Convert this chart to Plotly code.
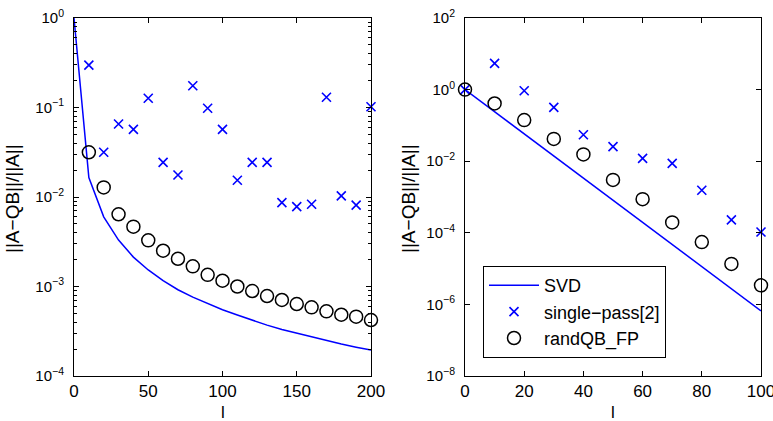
import plotly.graph_objects as go

# ---- data: left panel ----
l_left = [0, 10, 20, 30, 40, 50, 60, 70, 80, 90, 100, 110, 120, 130, 140, 150, 160, 170, 180, 190, 200]
svd_left = [1.0, 0.0165, 0.0060, 0.0033, 0.00213, 0.00153, 0.00116, 0.00092, 0.00076, 0.00064, 0.00055,
            0.00048, 0.00042, 0.00037, 0.00033, 0.00030, 0.000272, 0.000248, 0.000228, 0.00021, 0.000195]
l_left_pts = [10, 20, 30, 40, 50, 60, 70, 80, 90, 100, 110, 120, 130, 140, 150, 160, 170, 180, 190, 200]
sp_left = [0.298, 0.0316, 0.0654, 0.057, 0.127, 0.0244, 0.0176, 0.175, 0.098, 0.057, 0.0154,
           0.0244, 0.0244, 0.00864, 0.0078, 0.0083, 0.130, 0.0103, 0.0081, 0.102]
qb_left = [0.0316, 0.0128, 0.00641, 0.00466, 0.00328, 0.00251, 0.00204, 0.00168, 0.00135, 0.00116,
           0.00100, 0.00089, 0.000783, 0.000707, 0.000637, 0.000585, 0.000528, 0.000484, 0.00046, 0.000422]

# ---- data: right panel ----
l_right = [0, 10, 20, 30, 40, 50, 60, 70, 80, 90, 100]
svd_right = [1.0, 0.24, 0.058, 0.0139, 0.0033, 0.0008, 0.00019, 4.6e-5, 1.1e-5, 2.7e-6, 6.6e-7]
sp_right = [1.0, 5.4, 0.93, 0.32, 0.055, 0.0255, 0.012, 0.0087, 0.00154, 0.00023, 0.000105]
qb_right = [1.0, 0.41, 0.141, 0.042, 0.0155, 0.0030, 0.00087, 0.000195, 5.5e-5, 1.35e-5, 3.4e-6]

# ---- tick labels ----
left_yticks = [1e-4, 1e-3, 1e-2, 1e-1, 1e0]
left_yticktext = ["10<sup>−4</sup>", "10<sup>−3</sup>", "10<sup>−2</sup>", "10<sup>−1</sup>", "10<sup>0</sup>"]
right_yticks = [1e-8, 1e-6, 1e-4, 1e-2, 1e0, 1e2]
right_yticktext = ["10<sup>−8</sup>", "10<sup>−6</sup>", "10<sup>−4</sup>", "10<sup>−2</sup>", "10<sup>0</sup>", "10<sup>2</sup>"]
left_xticks = [0, 50, 100, 150, 200]
right_xticks = [0, 20, 40, 60, 80, 100]

series_names = ["SVD", "single−pass[2]", "randQB_FP"]
ytitle = "||A−QB||/||A||"
xtitle = "l"

BLUE = "#0000ff"
FONT = "Liberation Sans, Arial, sans-serif"

fig = go.Figure()

def add_panel(x_line, y_line, x_pts, y_sp, y_qb, xa, ya, show):
    fig.add_trace(go.Scatter(x=x_line, y=y_line, mode="lines", name=series_names[0],
                             line=dict(color=BLUE, width=1.5), xaxis=xa, yaxis=ya, showlegend=show))
    fig.add_trace(go.Scatter(x=x_pts, y=y_sp, mode="markers", name=series_names[1],
                             marker=dict(symbol="x-thin", size=9, color=BLUE, line=dict(color=BLUE, width=1.6)),
                             xaxis=xa, yaxis=ya, showlegend=show, cliponaxis=False))
    fig.add_trace(go.Scatter(x=x_pts, y=y_qb, mode="markers", name=series_names[2],
                             marker=dict(symbol="circle-open", size=13, color="black", line=dict(color="black", width=1.5)),
                             xaxis=xa, yaxis=ya, showlegend=show, cliponaxis=False))

add_panel(l_left, svd_left, l_left_pts, sp_left, qb_left, "x", "y", False)
add_panel(l_right, svd_right, l_right, sp_right, qb_right, "x2", "y2", True)

W, H = 773, 421
axis_common = dict(showgrid=False, zeroline=False, showline=True, linecolor="black", linewidth=1,
                   mirror="ticks", ticks="inside", ticklen=5, tickcolor="black", tickwidth=1,
                   automargin=False, ticklabeloverflow="allow")
xfont = dict(family=FONT, size=17, color="black")
yfont = dict(family=FONT, size=15, color="black")

minor_left = [m * 10.0 ** e for e in range(-4, 0) for m in range(2, 10)]

fig.update_layout(
    width=W, height=H,
    margin=dict(l=0, r=0, t=0, b=0),
    paper_bgcolor="white", plot_bgcolor="white",
    font=dict(family=FONT, size=17, color="black"),
    xaxis=dict(domain=[74 / W, 371 / W], range=[0, 200], tickvals=left_xticks, anchor="y",
               tickfont=xfont, ticklabelstandoff=0, **axis_common),
    yaxis=dict(domain=[(H - 376) / H, (H - 18) / H], type="log", range=[-4, 0],
               tickvals=left_yticks, ticktext=left_yticktext, anchor="x", tickfont=yfont,
               ticklabelstandoff=6,
               minor=dict(tickvals=minor_left, ticks="inside", ticklen=3, tickcolor="black"),
               **axis_common),
    xaxis2=dict(domain=[465 / W, 761 / W], range=[0, 100], tickvals=right_xticks, anchor="y2",
                tickfont=xfont, ticklabelstandoff=0, **axis_common),
    yaxis2=dict(domain=[(H - 376) / H, (H - 18) / H], type="log", range=[-8, 2],
                tickvals=right_yticks, ticktext=right_yticktext, anchor="x2", tickfont=yfont,
                ticklabelstandoff=6, **axis_common),
    legend=dict(x=483 / W, y=1 - 266 / H, xanchor="left", yanchor="top",
                bgcolor="white", bordercolor="black", borderwidth=1, itemwidth=50,
                font=dict(family=FONT, size=18, color="black"), tracegroupgap=0),
    showlegend=True,
)

# axis titles as annotations
for xc in [222.5 / W, 613 / W]:
    fig.add_annotation(x=xc, y=1 - 412 / H, xref="paper", yref="paper", text=xtitle, showarrow=False,
                       font=dict(family=FONT, size=17, color="black"), xanchor="center", yanchor="middle")
for xc in [12 / W, 408 / W]:
    fig.add_annotation(x=xc, y=1 - 199 / H, xref="paper", yref="paper", text=ytitle, showarrow=False,
                       textangle=-90, font=dict(family=FONT, size=19, color="black"),
                       xanchor="center", yanchor="middle")

fig.write_html("out.html")
